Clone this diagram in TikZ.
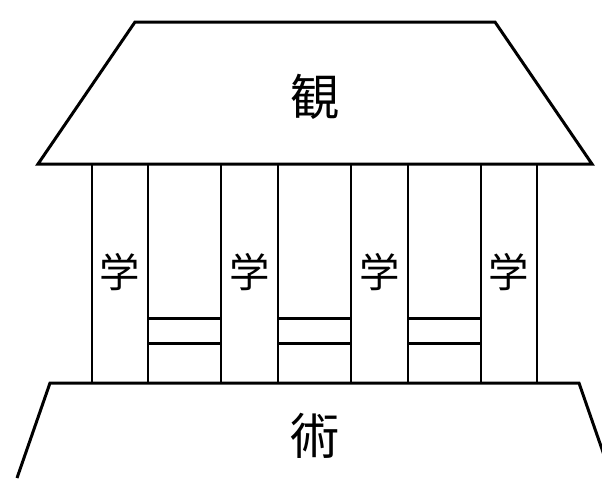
\documentclass[tikz,border=0pt]{standalone}
\usepackage{fontspec}
\newfontfamily\cjk{Noto Sans CJK JP}

\tikzset{
  wall/.style={line width=1.7pt},
  bigchar/.style={font=\cjk\fontsize{28}{28}\selectfont},
  smallchar/.style={font=\cjk\fontsize{23}{23}\selectfont}
}

\begin{document}
\begin{tikzpicture}[x=0.02cm,y=-0.02cm]
  \useasboundingbox (0,0) rectangle (602,478);
  \clip (0,0) rectangle (602,478);

  % Roof
  \draw[wall] (135,22) -- (495,22) -- (592,164) -- (38,164) -- cycle;
  \node[bigchar] (roof) at (315,97) {観};

  % Columns
  \foreach \x in {92,148,221,278,351,408,481,537}
    \draw[wall] (\x,164) -- (\x,383);

  % Bars in the wide bays
  \foreach \a/\b in {148/221,278/351,408/481} {
    \draw[wall] (\a,318) -- (\b,318);
    \draw[wall] (\a,343) -- (\b,343);
  }

  % Labels in the narrow bays
  \node[smallchar] (learn1) at (120,272) {学};
  \node[smallchar] (learn2) at (249.5,272) {学};
  \node[smallchar] (learn3) at (379.5,272) {学};
  \node[smallchar] (learn4) at (509,272) {学};

  % Base
  \draw[wall] (17,478) -- (50,383) -- (579,383) -- (612,478);
  \node[bigchar] (base) at (315,436) {術};
\end{tikzpicture}
\end{document}
